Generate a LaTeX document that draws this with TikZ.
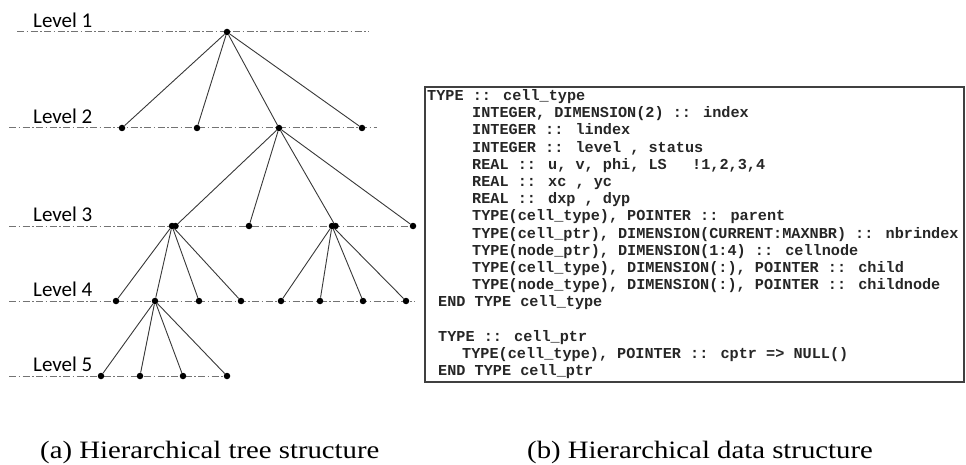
\documentclass[tikz,border=0pt]{standalone}
\usepackage{fontspec}
\newfontfamily\lvlfont{Carlito}
\newfontfamily\codefont{Liberation Mono}
\newfontfamily\capfont{Liberation Serif}
\tikzset{
  dot/.style={circle, fill=black, inner sep=0pt, minimum size=6.5pt},
  edge/.style={draw=black!78, line width=0.9pt},
  lvl/.style={draw=black!55, line width=1pt, dash pattern=on 7pt off 2.5pt on 1.5pt off 2.5pt},
  lvllabel/.style={font=\lvlfont\fontsize{21}{21}\selectfont, anchor=base west, inner sep=0pt},
  code/.style={font=\codefont\bfseries\fontsize{15.2}{17}\selectfont, anchor=base west, inner sep=0pt, text=black!85},
  captext/.style={font=\capfont\fontsize{25}{25}\selectfont, anchor=base west, inner sep=0pt},
  boxline/.style={draw=black!75, line width=1.5pt},
}
\begin{document}
\begin{tikzpicture}[x=1pt, y=-1pt]
\useasboundingbox (0,0) rectangle (966,465);
% level lines
\coordinate (l1a) at (17,32);  \coordinate (l1b) at (369,32);
\coordinate (l2a) at (9,128);  \coordinate (l2b) at (377,128);
\coordinate (l3a) at (9,226);  \coordinate (l3b) at (416,226);
\coordinate (l4a) at (9,301);  \coordinate (l4b) at (415,301);
\coordinate (l5a) at (9,376);  \coordinate (l5b) at (230,376);
\draw[lvl] (l1a) -- (l1b);
\draw[lvl] (l2a) -- (l2b);
\draw[lvl] (l3a) -- (l3b);
\draw[lvl] (l4a) -- (l4b);
\draw[lvl] (l5a) -- (l5b);
% labels
\node[lvllabel] (t1) at (33,27.5) {Level 1};
\node[lvllabel] (t2) at (33,123.5) {Level 2};
\node[lvllabel] (t3) at (33,221.5) {Level 3};
\node[lvllabel] (t4) at (33,296.5) {Level 4};
\node[lvllabel] (t5) at (33,371.5) {Level 5};
% nodes
\node[dot] (root) at (227,32) {};
\node[dot] (a) at (122,128) {};
\node[dot] (b) at (197,128) {};
\node[dot] (c) at (279,128) {};
\node[dot] (d) at (362,128) {};
\node[dot] (e) at (172,226) {};
\node[dot] (e2) at (175.5,226) {};
\node[dot] (f) at (249,226) {};
\node[dot] (g) at (332,226) {};
\node[dot] (g2) at (335.5,226) {};
\node[dot] (h) at (413,226) {};
\node[dot] (i1) at (116,301) {};
\node[dot] (i2) at (155,301) {};
\node[dot] (i3) at (199,301) {};
\node[dot] (i4) at (241,301) {};
\node[dot] (j1) at (281,301) {};
\node[dot] (j2) at (320,301) {};
\node[dot] (j3) at (363,301) {};
\node[dot] (j4) at (406,301) {};
\node[dot] (k1) at (101,376) {};
\node[dot] (k2) at (140,376) {};
\node[dot] (k3) at (183,376) {};
\node[dot] (k4) at (227,376) {};
% edges
\foreach \n in {a,b,c,d} \draw[edge] (root) -- (\n);
\foreach \n in {e2,f,g2,h} \draw[edge] (c) -- (\n);
\foreach \n in {i1,i2,i3,i4} \draw[edge] (e) -- (\n);
\foreach \n in {j1,j2,j3,j4} \draw[edge] (g) -- (\n);
\foreach \n in {k1,k2,k3,k4} \draw[edge] (i2) -- (\n);
% code box
\coordinate (bx1) at (425,87);
\coordinate (bx2) at (964,382);
\draw[boxline] (bx1) rectangle (bx2);
\def\lb#1{100.5+#1*17.2}
\node[code] (c1) at (427,{\lb{0}}) {TYPE :: cell\_type};
\node[code] (c2) at (472,{\lb{1}}) {INTEGER, DIMENSION(2) :: index};
\node[code] (c3) at (472,{\lb{2}}) {INTEGER :: lindex};
\node[code] (c4) at (472,{\lb{3}}) {INTEGER :: level , status};
\node[code] (c5) at (472,{\lb{4}}) {REAL :: u, v, phi, LS};
\node[code] (c5b) at (692,{\lb{4}}) {!1,2,3,4};
\node[code] (c6) at (472,{\lb{5}}) {REAL :: xc , yc};
\node[code] (c7) at (472,{\lb{6}}) {REAL :: dxp , dyp};
\node[code] (c8) at (472,{\lb{7}}) {TYPE(cell\_type), POINTER :: parent};
\node[code] (c9) at (472,{\lb{8}}) {TYPE(cell\_ptr), DIMENSION(CURRENT:MAXNBR) :: nbrindex};
\node[code] (c10) at (472,{\lb{9}}) {TYPE(node\_ptr), DIMENSION(1:4) :: cellnode};
\node[code] (c11) at (472,{\lb{10}}) {TYPE(cell\_type), DIMENSION(:), POINTER :: child};
\node[code] (c12) at (472,{\lb{11}}) {TYPE(node\_type), DIMENSION(:), POINTER :: childnode};
\node[code] (c13) at (438,{\lb{12}}) {END TYPE cell\_type};
\node[code] (c15) at (438,{\lb{14}}) {TYPE :: cell\_ptr};
\node[code] (c16) at (462,{\lb{15}}) {TYPE(cell\_type), POINTER :: cptr => NULL()};
\node[code] (c17) at (438,{\lb{16}}) {END TYPE cell\_ptr};
% captions
\node[captext] (capa) at (40,458) {\scalebox{1.15}[1]{(a) Hierarchical tree structure}};
\node[captext] (capb) at (527,458) {\scalebox{1.15}[1]{(b) Hierarchical data structure}};
\end{tikzpicture}
\end{document}
